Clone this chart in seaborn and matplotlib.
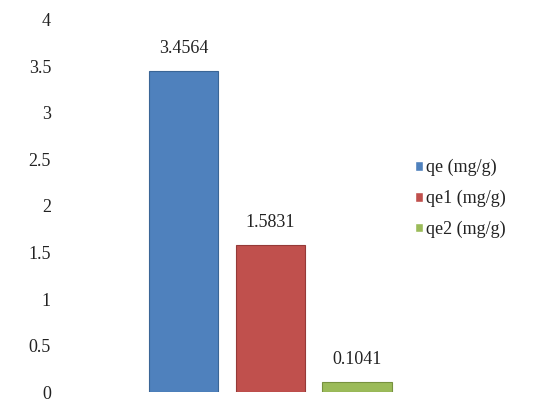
import matplotlib
matplotlib.use("Agg")
import matplotlib.pyplot as plt
import seaborn as sns
import pandas as pd

series = ["qe (mg/g)", "qe1 (mg/g)", "qe2 (mg/g)"]
values = [3.4564, 1.5831, 0.1041]
colors = ["#4F81BD", "#C0504D", "#9BBB59"]
edge_colors = ["#3A6596", "#953A38", "#77923F"]
yticks = [0, 0.5, 1, 1.5, 2, 2.5, 3, 3.5, 4]
ytick_labels = ["0", "0.5", "1", "1.5", "2", "2.5", "3", "3.5", "4"]

sns.set_theme(style="white")
plt.rcParams["font.family"] = ["Liberation Serif", "DejaVu Serif"]

df = pd.DataFrame({"series": series, "value": values})

fig = plt.figure(figsize=(5.37, 4.04), dpi=100)
ax = fig.add_axes([0.245, 0.0297, 0.518, 0.9208])

sns.barplot(data=df, x="series", y="value", hue="series", palette=colors,
            dodge=False, width=0.8, saturation=1, legend=True, ax=ax)

for cont, v, ec in zip(ax.containers, values, edge_colors):
    for patch in cont:
        patch.set_edgecolor(ec)
        patch.set_linewidth(0.8)
    ax.bar_label(cont, labels=[f"{v:.4f}"], padding=10, fontsize=13, color="#222222")

ax.set_ylim(0, 4)
ax.set_xlim(-0.6, 2.61)
ax.set_yticks(yticks)
ax.set_yticklabels(ytick_labels, fontsize=13, color="#222222")
ax.tick_params(axis="y", length=0, pad=58)
ax.set_xticks([])
ax.set_xlabel("")
ax.set_ylabel("")
for s in ax.spines.values():
    s.set_visible(False)

leg = ax.legend(loc="center left", bbox_to_anchor=(1.02, 0.52), frameon=False,
                fontsize=13, handlelength=0.45, handleheight=0.45,
                handletextpad=0.15, labelspacing=0.75, borderaxespad=0,
                borderpad=0)
for t in leg.get_texts():
    t.set_color("#222222")

fig.savefig("out.png", dpi=100)
